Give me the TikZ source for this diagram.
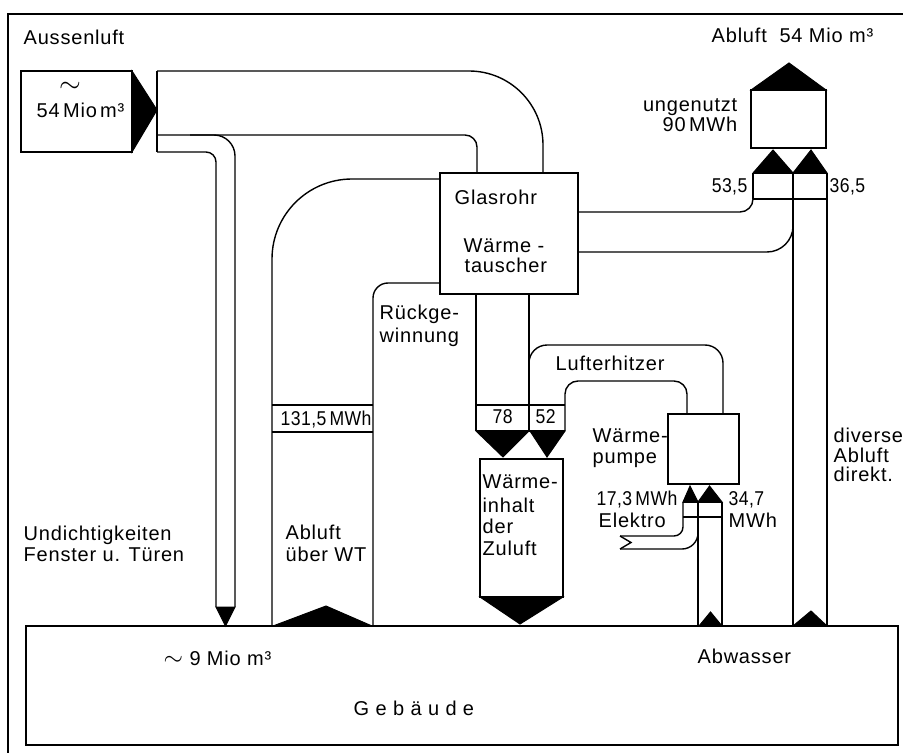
\documentclass[tikz,border=0pt]{standalone}
\usepackage{fontspec}
\setmainfont{Liberation Sans}[LetterSpace=4]
\newfontfamily\narrowfont{Liberation Sans}[FakeStretch=0.88, LetterSpace=2]
\usepackage{tikz}

\begin{document}
\begin{tikzpicture}[
x=0.5pt, y=-0.5pt,
every node/.style={inner sep=0, font=\fontsize{10}{10.5}\selectfont},
every path/.style={line width=0.7pt},
txt/.style={anchor=base west},
rtxt/.style={anchor=base east},
num/.style={font=\fontsize{10}{10.5}\narrowfont},
box/.style={line width=1.4pt},
midbox/.style={line width=0.9pt},
tip/.style={fill=black, draw=black, line width=0.5pt}
]
\useasboundingbox (0,0) rectangle (903,753);
\draw (8,753) -- (8,14) -- (903,14);

\draw[box] (21,71) rectangle (132,152);
\filldraw[tip] (132,71) -- (157,110) -- (132,152) -- cycle;
\node[txt] (aussen) at (23,45) {Aussenluft};
\node (tilde) at (70,87) {\scalebox{1.4}{$\sim$}};
\node[txt] (srcvol) at (36,118) {54\,Mio\,m³};

\draw[rounded corners=37pt] (157,71) -- (543,71) -- (543,173);
\draw[rounded corners=6pt] (157,135) -- (477,135) -- (477,173);
\draw (157,71) -- (157,152);
\draw[rounded corners=5pt] (157,152) -- (216,152) -- (216,607);
\draw[rounded corners=10.5pt] (190,135) -- (235,135) -- (235,607);
\filldraw[tip] (216,607) -- (225.5,626) -- (235,607) -- cycle;

\draw[rounded corners=40pt] (272,626) -- (272,179) -- (440,179);
\draw[rounded corners=7.5pt] (373,626) -- (373,283) -- (440,283);
\draw (272,405) -- (373,405) (272,432) -- (373,432);
\filldraw[tip] (273,626) -- (326,606) -- (372,626) -- cycle;

\draw[box] (440,173) rectangle (578,294);
\node[txt] (glas1) at (454,205) {Glasrohr};
\node[txt] (glas2) at (463,253) {Wärme -};
\node[txt] (glas3) at (464,273) {tauscher};

\draw (476,294) -- (476,431);
\draw (529,294) -- (529,431);
\draw[rounded corners=9pt] (529,380) -- (529,345) -- (723,345) -- (723,414);
\draw[rounded corners=6.5pt] (565,431) -- (565,381) -- (687,381) -- (687,414);
\draw (476,405) -- (565,405) (476,431) -- (565,431);
\filldraw[tip] (476,431) -- (503,457) -- (529,431) -- cycle;
\filldraw[tip] (530,431) -- (547,457) -- (565,431) -- cycle;

\draw[midbox] (480,459) rectangle (563,597);
\filldraw[tip] (480,597) -- (520,624) -- (563,597) -- cycle;

\draw[box] (668,414) rectangle (739,484);
\filldraw[tip] (683,502) -- (690,486) -- (698,502) -- cycle;
\filldraw[tip] (698,502) -- (709.5,486) -- (722,502) -- cycle;
\draw (683,502) -- (722,502) (683,517) -- (722,517);
\draw[rounded corners=4.5pt] (683,502) -- (683,536) -- (620,536);
\draw (620,536) -- (631,542.5) -- (620,549);
\draw[rounded corners=8pt] (620,549) -- (698,549) -- (698,520);
\draw (698,502) -- (698,626);
\draw (722,502) -- (722,626);
\filldraw[tip] (699,626) -- (710.5,612) -- (722,626) -- cycle;

\draw[box] (751,90) rectangle (826,148);
\filldraw[tip] (751,90) -- (789,63) -- (826,90) -- cycle;
\filldraw[tip] (753,173) -- (773,150) -- (793,173) -- cycle;
\filldraw[tip] (793,173) -- (811,150) -- (827,173) -- cycle;
\draw (753,173) -- (827,173) (753,199) -- (827,199);
\draw (753,173) -- (753,199);
\draw[rounded corners=6.5pt] (578,212) -- (753,212) -- (753,199);
\draw[rounded corners=13pt] (578,252) -- (793,252) -- (793,220);
\draw (793,173) -- (793,626);
\draw (827,173) -- (827,626);
\filldraw[tip] (793,626) -- (811,611) -- (827,626) -- cycle;

\draw[box] (26,626) rectangle (898,745);

\node[txt] (abluft) at (711,43) {Abluft\ \ 54 Mio m³};
\node[rtxt] (unused1) at (738,112) {ungenutzt};
\node[rtxt] (unused2) at (738,132) {90\,MWh};
\node[rtxt, num] (v535) at (748,193) {53,5};
\node[txt, num] (v365) at (829,193) {36,5};
\node[txt] (rueck1) at (379,319) {Rückge-};
\node[txt] (rueck2) at (379,342) {winnung};
\node[txt] (lufterh) at (555,370) {Lufterhitzer};
\node[txt, num] (v1315) at (280,425) {131,5\,MWh};
\node[txt, num] (v78) at (492,423) {78};
\node[txt, num] (v52) at (535,423) {52};
\node[txt] (wi1) at (482,488) {Wärme-};
\node[txt] (wi2) at (482,512) {inhalt};
\node[txt] (wi3) at (482,533) {der};
\node[txt] (wi4) at (482,555) {Zuluft};
\node[txt] (wp1) at (592,442) {Wärme-};
\node[txt] (wp2) at (592,463) {pumpe};
\node[txt, num] (el1) at (596,505) {17,3\,MWh};
\node[txt] (el2) at (598,527) {Elektro};
\node[txt, num] (v347) at (728,505) {34,7};
\node[txt] (v347u) at (728,527) {MWh};
\node[txt] (div1) at (833,442) {diverse};
\node[txt] (div2) at (833,462) {Abluft};
\node[txt] (div3) at (833,481) {direkt.};
\node[txt] (leak1) at (23,540) {Undichtigkeiten};
\node[txt] (leak2) at (23,561) {Fenster u. Türen};
\node[txt] (wt1) at (285,539) {Abluft};
\node[txt] (wt2) at (285,561) {über WT};
\node[txt] (vol9) at (163,665) {\scalebox{1.25}{$\sim$} 9 Mio m³};
\node[txt] (abw) at (697,663) {Abwasser};
\node[txt] (geb) at (353,715) {G e b ä u d e};
\end{tikzpicture}
\end{document}
